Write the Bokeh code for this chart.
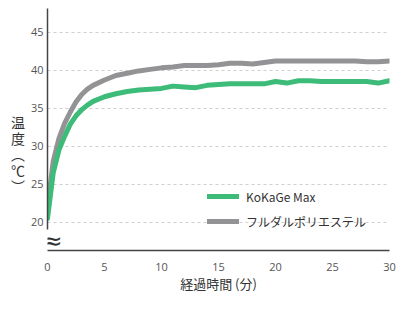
from bokeh.plotting import figure
from bokeh.models import Range1d, Label, Legend, LegendItem, FixedTicker
from bokeh.embed import file_html
from bokeh.resources import INLINE

minutes = [0, 0.5, 1, 1.5, 2, 2.5, 3, 3.5, 4, 5, 6, 7, 8, 9, 10, 11, 12, 13, 14, 15,
           16, 17, 18, 19, 20, 21, 22, 23, 24, 25, 26, 27, 28, 29, 30]
kokage = [20.5, 26.5, 29.5, 31.3, 32.9, 34.0, 34.8, 35.4, 35.9, 36.5, 36.9, 37.2, 37.4, 37.5,
          37.6, 37.9, 37.8, 37.7, 38.0, 38.1, 38.2, 38.2, 38.2, 38.2, 38.5, 38.3, 38.6, 38.6,
          38.5, 38.5, 38.5, 38.5, 38.5, 38.3, 38.6]
polyester = [22.0, 28.0, 31.0, 33.0, 34.5, 35.8, 36.8, 37.5, 38.0, 38.7, 39.3, 39.6, 39.9, 40.1,
             40.3, 40.4, 40.6, 40.6, 40.6, 40.7, 40.9, 40.9, 40.8, 41.0, 41.2, 41.2, 41.2, 41.2,
             41.2, 41.2, 41.2, 41.2, 41.1, 41.1, 41.2]
series_names = ["KoKaGe Max", "フルダルポリエステル"]
x_ticks = [0, 5, 10, 15, 20, 25, 30]
y_ticks = [20, 25, 30, 35, 40, 45]
x_label = "経過時間 (分)"
y_label = "\u3000\n\u3000\n\u3000\n温\n度\n︵\n℃\n︶"

GREEN = "#3dbb78"
GREY = "#939396"
JP = "Noto Sans CJK JP"

p = figure(width=396, height=295, output_backend="svg", toolbar_location=None,
           x_range=Range1d(0, 30), y_range=Range1d(16.3, 48.1),
           min_border_left=47, min_border_right=7, min_border_top=8, min_border_bottom=42)
p.outline_line_color = None
p.background_fill_color = "white"

p.xgrid.grid_line_color = None
p.ygrid.grid_line_color = "#cfcfcf"
p.ygrid.grid_line_dash = "3 3"
p.ygrid.grid_line_width = 1

for ax in (p.xaxis[0], p.yaxis[0]):
    ax.axis_line_color = "#444444"
    ax.axis_line_width = 1.5
    ax.major_tick_line_color = None
    ax.minor_tick_line_color = None
    ax.major_label_text_color = "#555555"
    ax.major_label_text_font = "Open Sans"
    ax.major_label_text_font_size = "11px"

p.xaxis.ticker = FixedTicker(ticks=x_ticks)
p.yaxis.ticker = FixedTicker(ticks=y_ticks)
p.yaxis.bounds = (19.1, 48.1)
p.yaxis.major_tick_out = 0
p.yaxis.major_tick_in = 0
p.xaxis.major_label_standoff = 6
p.yaxis.major_label_standoff = 4
p.xaxis.axis_label = x_label
p.xaxis.axis_label_text_font = JP
p.xaxis.axis_label_text_font_style = "normal"
p.xaxis.axis_label_text_font_size = "13px"
p.xaxis.axis_label_text_color = "#333333"
p.xaxis.axis_label_standoff = 0

p.yaxis.axis_label = y_label
p.yaxis.axis_label_text_font = JP
p.yaxis.axis_label_text_font_style = "normal"
p.yaxis.axis_label_text_font_size = "14px"
p.yaxis.axis_label_text_color = "#333333"
p.yaxis.axis_label_standoff = 3
p.yaxis.axis_label_text_line_height = 0.8
try:
    p.yaxis.axis_label_orientation = "horizontal"
except Exception:
    pass

r_grey = p.line(minutes, polyester, line_color=GREY, line_width=5, line_join="round", line_cap="round")
r_green = p.line(minutes, kokage, line_color=GREEN, line_width=5, line_join="round", line_cap="round")

legend = Legend(items=[LegendItem(label=series_names[0], renderers=[r_green]),
                       LegendItem(label=series_names[1], renderers=[r_grey])],
                location=(160, 19), orientation="vertical")
legend.border_line_color = None
legend.background_fill_alpha = 0
legend.padding = 0
legend.margin = 0
legend.spacing = 5
legend.glyph_width = 32
legend.glyph_height = 20
legend.label_standoff = 7
legend.label_text_font = JP
legend.label_text_font_size = "12px"
legend.label_text_color = "#333333"
p.add_layout(legend, "center")

# axis break mark
p.add_layout(Label(x=0.45, y=17.6, text="≈", text_font="DejaVu Sans", text_font_size="24px",
                   text_color="#333333", text_align="center", text_baseline="middle"))

open("out.html", "w").write(file_html(p, INLINE))
